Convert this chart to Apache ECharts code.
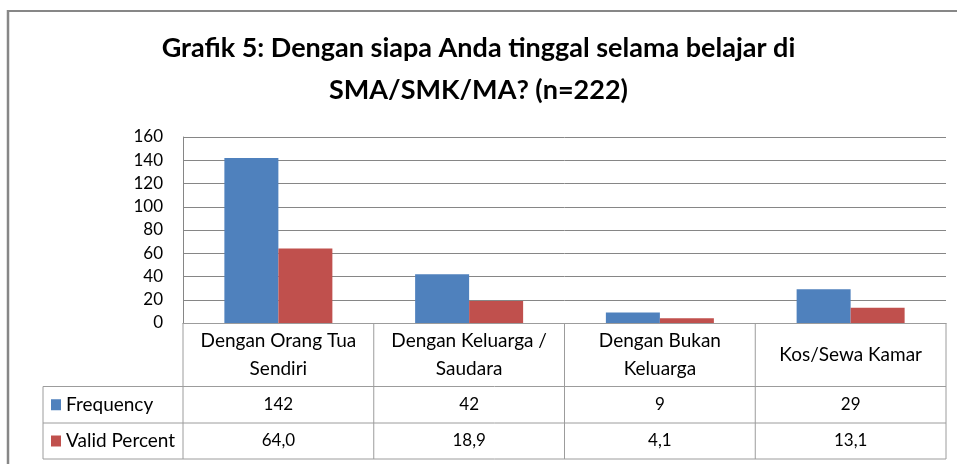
<!DOCTYPE html>
<html>
<head>
<meta charset="utf-8">
<script src="https://cdn.jsdelivr.net/npm/echarts@6/dist/echarts.min.js"></script>
<style>
html, body { margin: 0; padding: 0; background: #fff; }
#chart { width: 957px; height: 464px; }
</style>
</head>
<body>
<div id="chart"></div>
<script>
// data
var categories = ['Dengan Orang Tua\nSendiri', 'Dengan Keluarga /\nSaudara', 'Dengan Bukan\nKeluarga', 'Kos/Sewa Kamar'];
var seriesNames = ['Frequency', 'Valid Percent'];
var frequency = [142, 42, 9, 29];
var validPercent = [64.0, 18.9, 4.1, 13.1];
var yMin = 0, yMax = 160, yStep = 20;

var FONT = 'Lato';
var colors = ['#4F81BD', '#C0504D'];
var lineColor = '#9C9C9C';

var chart = echarts.init(document.getElementById('chart'));

chart.setOption({
  animation: false,
  textStyle: { fontFamily: FONT },
  title: {
    text: 'Grafik 5: Dengan siapa Anda tinggal selama belajar di\nSMA/SMK/MA? (n=222)',
    left: 'center',
    top: 22,
    textStyle: { fontFamily: FONT, fontSize: 27, fontWeight: 'bold', color: '#000', lineHeight: 42 }
  },
  grid: { left: 183, right: 11, top: 137, bottom: 141 },
  xAxis: {
    type: 'category',
    data: categories,
    axisLine: { lineStyle: { color: lineColor, width: 1 } },
    axisTick: { show: false },
    axisLabel: {
      interval: 0,
      margin: 32,
      verticalAlign: 'middle',
      fontSize: 19,
      lineHeight: 28,
      color: '#000',
      fontFamily: FONT
    }
  },
  yAxis: {
    type: 'value',
    min: yMin,
    max: yMax,
    interval: yStep,
    axisLine: { show: true, lineStyle: { color: '#868686' } },
    axisTick: { show: false },
    splitLine: { lineStyle: { color: '#868686' } },
    axisLabel: { margin: 20, fontSize: 17, color: '#000', fontFamily: FONT }
  },
  series: [
    { name: seriesNames[0], type: 'bar', data: frequency, barWidth: 54, barGap: '0%', itemStyle: { color: colors[0] } },
    { name: seriesNames[1], type: 'bar', data: validPercent, barWidth: 54, barGap: '0%', itemStyle: { color: colors[1] } }
  ]
});

// data table under the plot
var c0 = chart.convertToPixel({ xAxisIndex: 0 }, 0);
var c1 = chart.convertToPixel({ xAxisIndex: 0 }, 1);
var bw = c1 - c0;
var y0 = chart.convertToPixel({ yAxisIndex: 0 }, 0);
var tableLeft = 43;
var plotLeft = c0 - bw / 2;
var plotRight = plotLeft + bw * categories.length;
var rowTops = [y0, y0 + 63.5, y0 + 100, y0 + 136];

var g = [];
function hline(x1, x2, y) {
  g.push({ type: 'line', shape: { x1: x1, y1: y, x2: x2, y2: y }, style: { stroke: lineColor, lineWidth: 1 } });
}
function vline(x, y1, y2) {
  g.push({ type: 'line', shape: { x1: x, y1: y1, x2: x, y2: y2 }, style: { stroke: lineColor, lineWidth: 1 } });
}
hline(tableLeft, plotRight, rowTops[1]);
hline(tableLeft, plotRight, rowTops[2]);
hline(tableLeft, plotRight, rowTops[3]);
vline(tableLeft, rowTops[1], rowTops[3]);
for (var i = 0; i <= categories.length; i++) {
  vline(plotLeft + bw * i, y0, rowTops[3]);
}

var rows = [
  frequency.map(function (v) { return String(v); }),
  validPercent.map(function (v) { return v.toFixed(1).replace('.', ','); })
];
rows.forEach(function (vals, r) {
  var cy = (rowTops[r + 1] + rowTops[r + 2]) / 2;
  g.push({ type: 'rect', shape: { x: 51, y: cy - 5.5, width: 10, height: 11 }, style: { fill: colors[r] } });
  g.push({ type: 'text', x: 66, y: cy, style: { text: seriesNames[r], font: '19px ' + FONT, fill: '#000', verticalAlign: 'middle', align: 'left' } });
  vals.forEach(function (t, i) {
    g.push({ type: 'text', x: plotLeft + bw * (i + 0.5), y: cy, style: { text: t, font: '17px ' + FONT, fill: '#000', verticalAlign: 'middle', align: 'center' } });
  });
});

// outer frame
g.push({ type: 'line', shape: { x1: 8, y1: 11, x2: 957, y2: 11 }, style: { stroke: '#878787', lineWidth: 2 } });
g.push({ type: 'line', shape: { x1: 8, y1: 10, x2: 8, y2: 464 }, style: { stroke: '#878787', lineWidth: 2.5 } });

chart.setOption({ graphic: g });
</script>
</body>
</html>
